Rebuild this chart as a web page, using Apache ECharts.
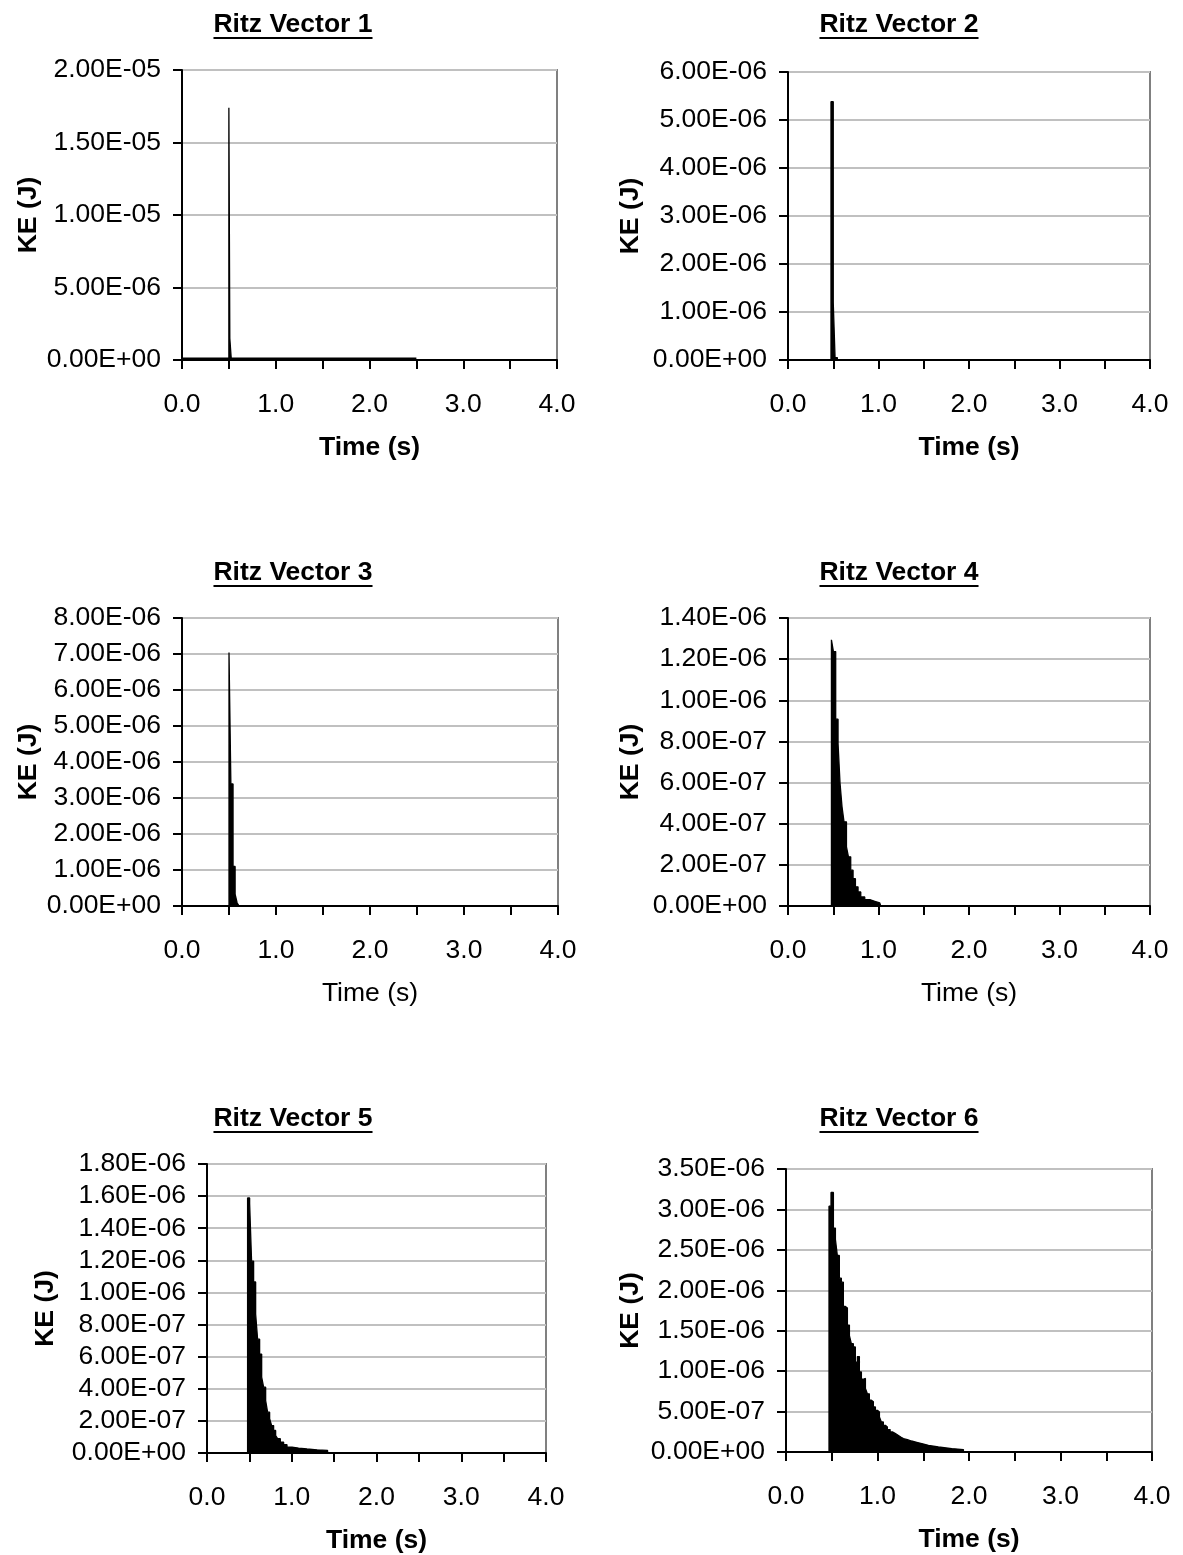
<!DOCTYPE html>
<html>
<head>
<meta charset="utf-8">
<script src="https://cdn.jsdelivr.net/npm/echarts@6/dist/echarts.min.js"></script>
<style>
  html, body { margin: 0; padding: 0; background: #ffffff; }
  #chart { width: 1183px; height: 1555px; }
</style>
</head>
<body>
<div id="chart"></div>
<script>
// Kinetic energy time histories of the first six Ritz vectors.
// Each series lists the peak envelope of the oscillating KE signal.

const titles = ['Ritz Vector 1', 'Ritz Vector 2', 'Ritz Vector 3',
                'Ritz Vector 4', 'Ritz Vector 5', 'Ritz Vector 6'];

// Time axis (s)
const timeMin = 0;
const timeMax = 4.0;
const timeStep = 0.5;

// KE axis ranges (J)
const keMax  = [2.0e-5, 6.0e-6, 8.0e-6, 1.4e-6, 1.8e-6, 3.5e-6];
const keStep = [5.0e-6, 1.0e-6, 1.0e-6, 2.0e-7, 2.0e-7, 5.0e-7];

// Ritz vector 1
const ritz1Time = [0, 0.50, 0.51, 0.525, 2.5];
const ritz1KE   = [1.2e-7, 1.74e-5, 1.5e-6, 1.2e-7, 1.2e-7];

// Ritz vector 2
const ritz2Time = [0, 0.475, 0.50, 0.52, 0.545, 4.0];
const ritz2KE   = [0, 5.38e-6, 1.2e-6, 5.0e-8, 0, 0];

// Ritz vector 3
const ritz3Time = [0, 0.50, 0.52, 0.543, 0.565, 0.586, 0.607, 4.0];
const ritz3KE   = [0, 7.04e-6, 3.39e-6, 1.10e-6, 3.3e-7, 9.0e-8, 0, 0];

// Ritz vector 4
const ritz4Time = [0, 0.48, 0.502, 0.527, 0.553, 0.575, 0.597, 0.619, 0.646, 0.668,
                   0.693, 0.719, 0.745, 0.774, 0.804, 0.848, 0.904, 0.959, 1.014,
                   1.025, 4.0];
const ritz4KE   = [0, 1.294e-6, 1.237e-6, 9.08e-7, 7.90e-7, 5.96e-7, 4.82e-7, 4.09e-7,
                   2.87e-7, 2.39e-7, 1.74e-7, 1.33e-7, 9.3e-8, 6.8e-8, 4.4e-8, 3.1e-8,
                   2.3e-8, 1.5e-8, 8.0e-9, 0, 0];

// Ritz vector 5
const ritz5Time = [0, 0.479, 0.503, 0.526, 0.550, 0.574, 0.597, 0.621, 0.645, 0.668,
                   0.692, 0.715, 0.739, 0.762, 0.786, 0.810, 0.833, 0.865, 0.904,
                   0.944, 1.003, 1.081, 1.180, 1.298, 1.423, 4.0];
const ritz5KE   = [0, 1.589e-6, 1.554e-6, 1.195e-6, 1.065e-6, 8.65e-7, 7.09e-7, 6.16e-7,
                   4.72e-7, 4.10e-7, 3.27e-7, 2.54e-7, 2.13e-7, 1.71e-7, 1.40e-7, 1.09e-7,
                   8.9e-8, 6.8e-8, 5.2e-8, 3.7e-8, 3.1e-8, 2.5e-8, 2.0e-8, 1.6e-8, 0, 0];

// Ritz vector 6
const ritz6Time = [0, 0.470, 0.492, 0.518, 0.540, 0.561, 0.583, 0.605, 0.627, 0.649,
                   0.671, 0.693, 0.714, 0.736, 0.758, 0.780, 0.802, 0.824, 0.846,
                   0.868, 0.889, 0.911, 0.933, 0.955, 0.977, 0.999, 1.021, 1.042,
                   1.064, 1.086, 1.108, 1.138, 1.167, 1.196, 1.225, 1.254, 1.283,
                   1.327, 1.371, 1.429, 1.484, 1.557, 1.666, 1.812, 1.939, 4.0];
const ritz6KE   = [0, 3.04e-6, 3.21e-6, 2.77e-6, 2.63e-6, 2.43e-6, 2.15e-6, 2.10e-6,
                   1.80e-6, 1.78e-6, 1.57e-6, 1.44e-6, 1.34e-6, 1.30e-6, 1.11e-6,
                   1.18e-6, 9.9e-7, 9.0e-7, 9.1e-7, 7.85e-7, 7.2e-7, 6.4e-7, 6.2e-7,
                   5.57e-7, 5.16e-7, 4.95e-7, 4.33e-7, 3.71e-7, 3.3e-7, 3.1e-7, 2.77e-7,
                   2.48e-7, 2.28e-7, 2.07e-7, 1.86e-7, 1.66e-7, 1.53e-7, 1.36e-7,
                   1.2e-7, 1.04e-7, 8.3e-8, 6.2e-8, 4.2e-8, 3.0e-8, 0, 0];

const seriesTime = [ritz1Time, ritz2Time, ritz3Time, ritz4Time, ritz5Time, ritz6Time];
const seriesKE   = [ritz1KE, ritz2KE, ritz3KE, ritz4KE, ritz5KE, ritz6KE];

// Panel layout (plot areas in px)
const panels = [
  { left: 182, top: 70,   width: 375, height: 290, cx: 293, ty: 25,   yGap: 140, xBold: true  },
  { left: 788, top: 72,   width: 362, height: 288, cx: 899, ty: 25,   yGap: 144, xBold: true  },
  { left: 182, top: 618,  width: 376, height: 288, cx: 293, ty: 573,  yGap: 140, xBold: false },
  { left: 788, top: 618,  width: 362, height: 288, cx: 899, ty: 573,  yGap: 144, xBold: false },
  { left: 207, top: 1164, width: 339, height: 290, cx: 293, ty: 1119, yGap: 148, xBold: true  },
  { left: 786, top: 1169, width: 366, height: 283, cx: 899, ty: 1119, yGap: 142, xBold: true  }
];

const FONT = "'Liberation Sans', Arial, Helvetica, sans-serif";
const FS = 26.5;

function sciLabel(v) {
  if (Math.abs(v) < 1e-15) return '0.00E+00';
  const parts = v.toExponential(2).split('e');
  const e = parseInt(parts[1], 10);
  const sign = e < 0 ? '-' : '+';
  const n = Math.abs(e);
  return parts[0] + 'E' + sign + (n < 10 ? '0' + n : String(n));
}

function timeLabel(v) {
  return Math.abs(v - Math.round(v)) < 1e-9 ? v.toFixed(1) : '';
}

const measureCtx = document.createElement('canvas').getContext('2d');
function textWidth(text, font) {
  measureCtx.font = font;
  return measureCtx.measureText(text).width;
}

const grids = [], xAxes = [], yAxes = [], series = [], graphics = [];

panels.forEach((p, i) => {
  grids.push({
    left: p.left, top: p.top, width: p.width, height: p.height,
    show: true, borderColor: '#808080', borderWidth: 2, backgroundColor: '#ffffff'
  });
  xAxes.push({
    gridIndex: i, type: 'value', min: timeMin, max: timeMax, interval: timeStep,
    name: 'Time (s)', nameLocation: 'middle', nameGap: 74,
    nameTextStyle: { color: '#000', fontFamily: FONT, fontSize: FS, fontWeight: p.xBold ? 'bold' : 'normal' },
    axisLine: { show: true, onZero: false, lineStyle: { color: '#000', width: 2 } },
    axisTick: { show: true, inside: false, length: 9, lineStyle: { color: '#000', width: 2 } },
    axisLabel: { show: true, margin: 31, color: '#000', fontFamily: FONT, fontSize: FS,
                 formatter: timeLabel, showMinLabel: true, showMaxLabel: true, hideOverlap: false },
    splitLine: { show: false }
  });
  yAxes.push({
    gridIndex: i, type: 'value', min: 0, max: keMax[i], interval: keStep[i],
    name: 'KE (J)', nameLocation: 'middle', nameGap: p.yGap,
    nameTextStyle: { color: '#000', fontFamily: FONT, fontSize: FS, fontWeight: 'bold' },
    axisLine: { show: true, onZero: false, lineStyle: { color: '#000', width: 2 } },
    axisTick: { show: true, inside: false, length: 9, lineStyle: { color: '#000', width: 2 } },
    axisLabel: { show: true, margin: 21, color: '#000', fontFamily: FONT, fontSize: FS,
                 formatter: sciLabel, showMinLabel: true, showMaxLabel: true, hideOverlap: false },
    splitLine: { show: true, lineStyle: { color: '#c0c0c0', width: 2 } }
  });
  series.push({
    type: 'line', xAxisIndex: i, yAxisIndex: i,
    data: seriesTime[i].map((t, k) => [t, seriesKE[i][k]]),
    step: 'end', symbol: 'none', silent: true,
    lineStyle: { color: '#000', width: 1.3 },
    itemStyle: { color: '#000' },
    areaStyle: { color: '#000', opacity: 1 },
    z: 3
  });

  // Underlined panel title
  const tFont = 'bold ' + FS + 'px ' + FONT;
  const w = textWidth(titles[i], tFont);
  graphics.push({
    type: 'text', x: p.cx, y: p.ty,
    style: { text: titles[i], fill: '#000', font: tFont, align: 'center', verticalAlign: 'middle' }
  });
  graphics.push({
    type: 'rect', shape: { x: p.cx - w / 2, y: p.ty + 12, width: w, height: 2 },
    style: { fill: '#000' }
  });
});

const chart = echarts.init(document.getElementById('chart'), null, { renderer: 'canvas' });
chart.setOption({
  animation: false,
  backgroundColor: '#ffffff',
  textStyle: { fontFamily: FONT },
  grid: grids,
  xAxis: xAxes,
  yAxis: yAxes,
  series: series,
  graphic: graphics
});
</script>
</body>
</html>
